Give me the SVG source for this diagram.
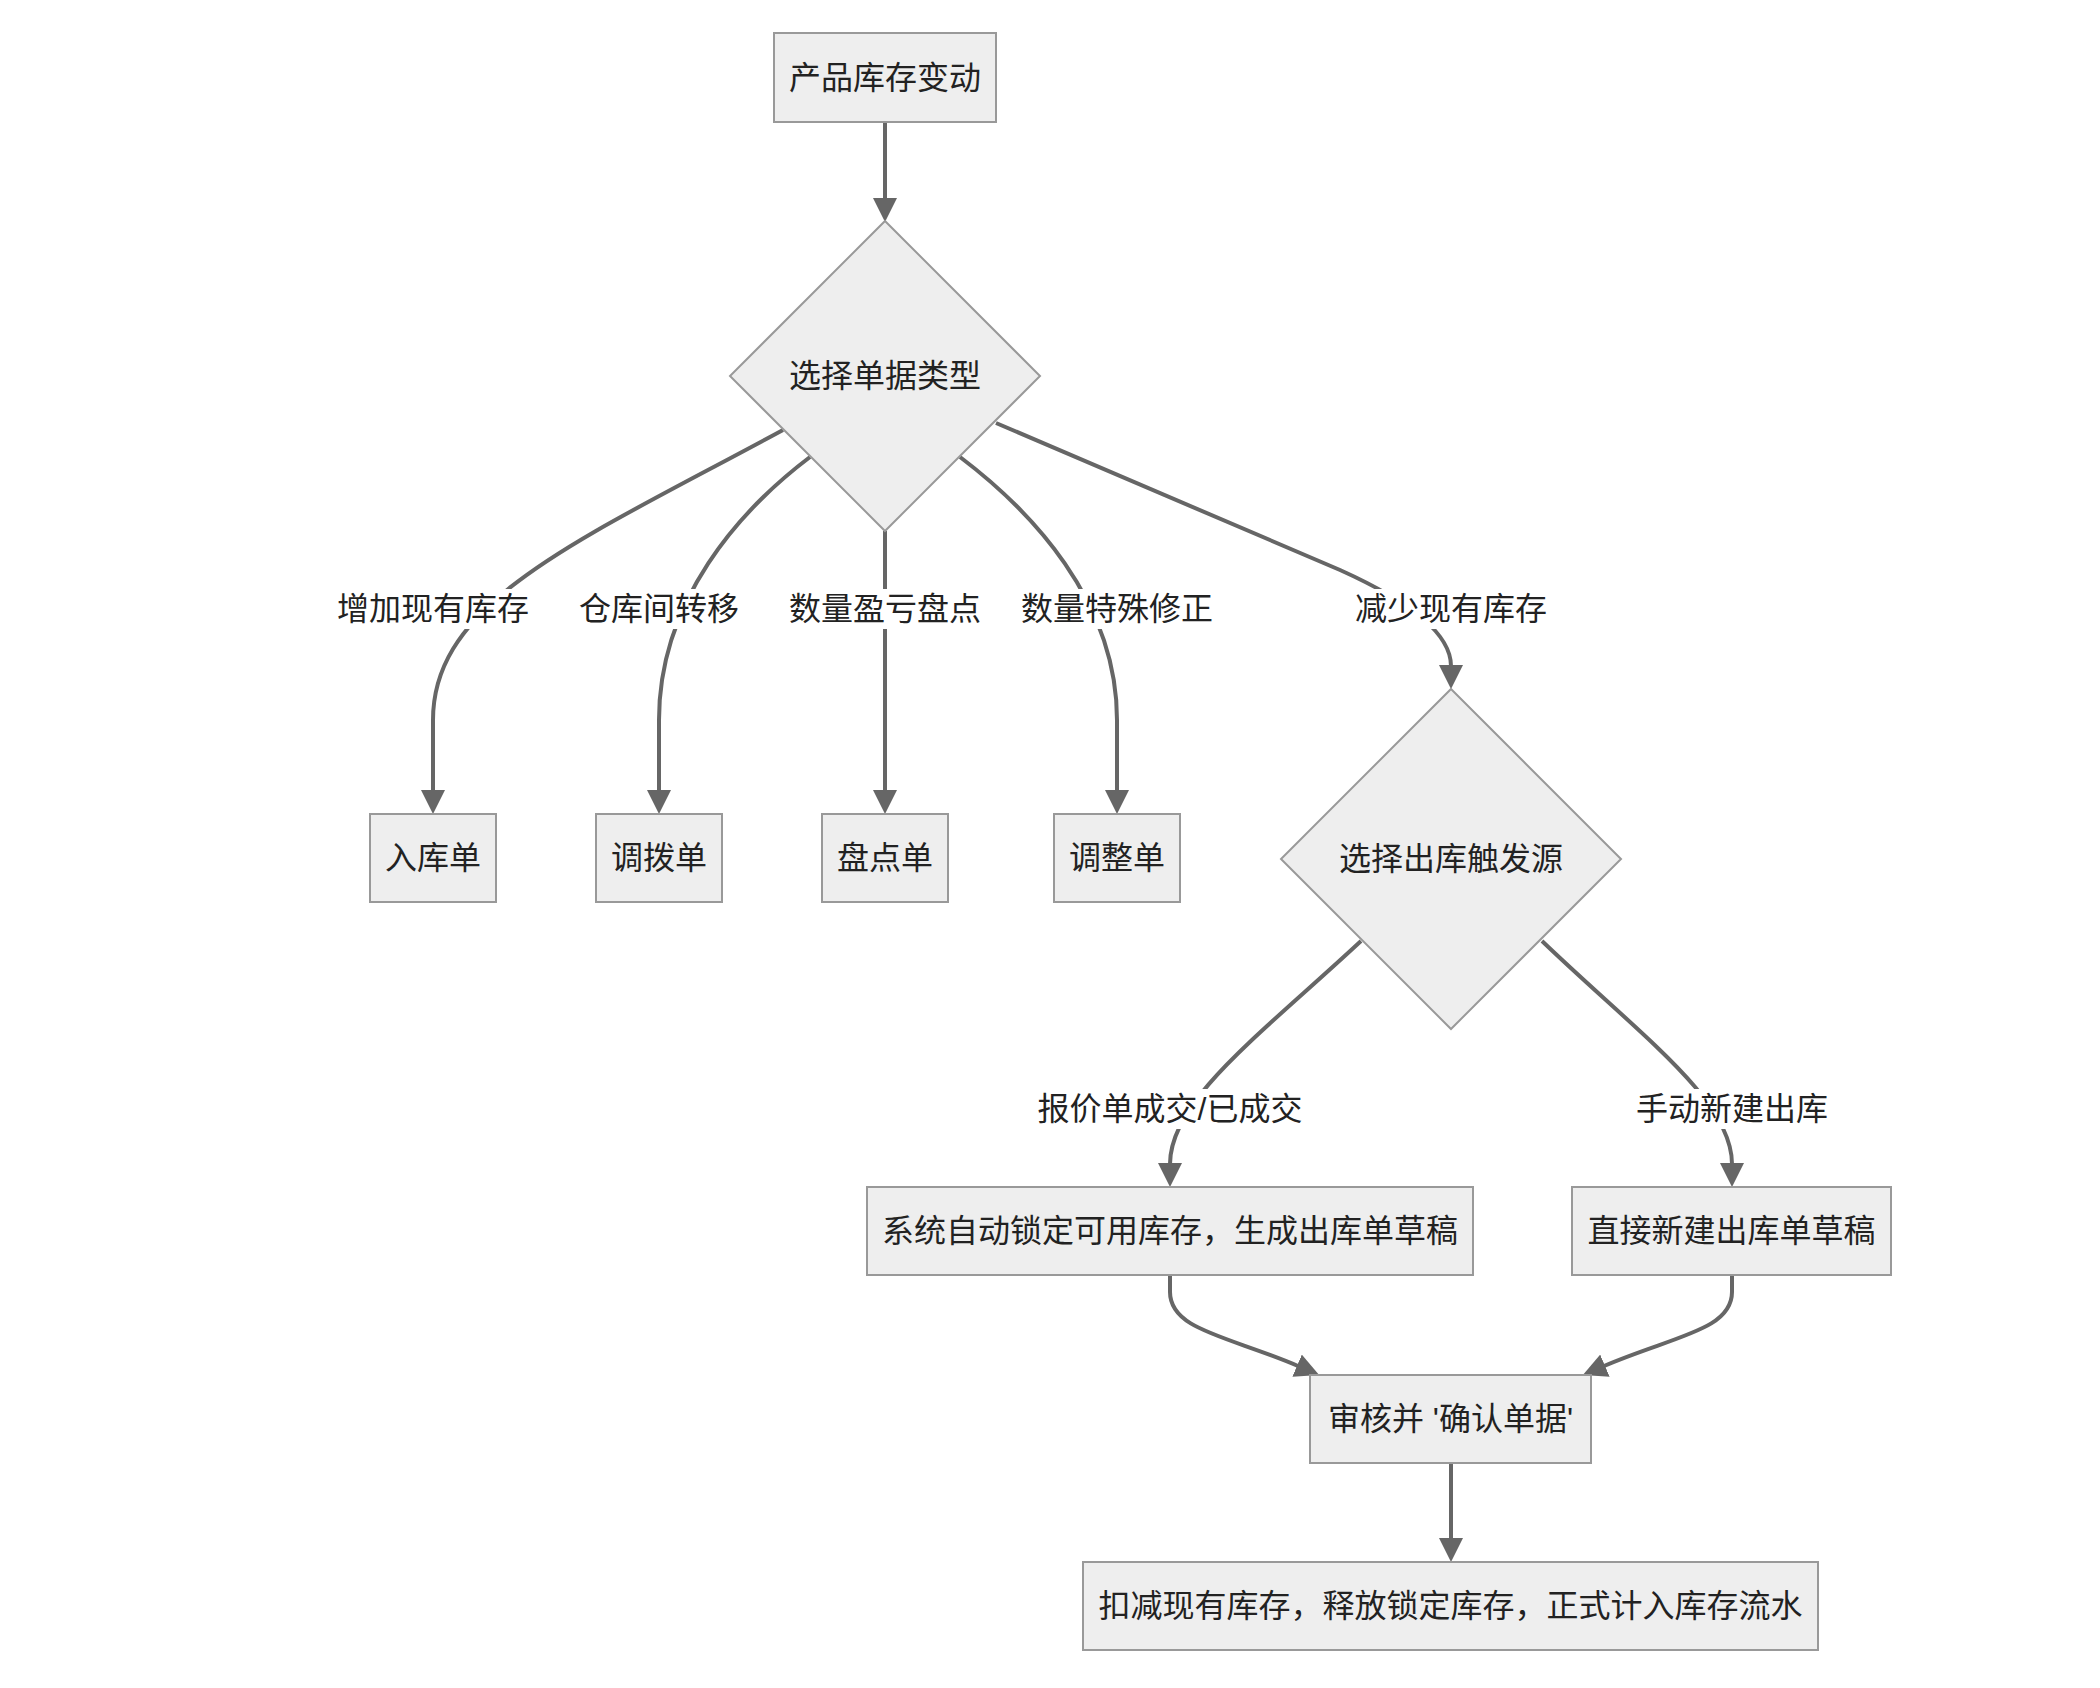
<svg xmlns="http://www.w3.org/2000/svg" width="2100" height="1688" viewBox="0 0 2100 1688">
<defs>
<style>
.node{fill:#eeeeee;stroke:#999999;stroke-width:2}
.t{font-family:"Liberation Sans","Noto Sans CJK SC",sans-serif;font-size:32px;fill:#222;text-anchor:middle;dominant-baseline:central}
.e{fill:none;stroke:#666666;stroke-width:4}
.lb{fill:#ffffff}
</style>
<marker id="arr" markerUnits="userSpaceOnUse" markerWidth="24" markerHeight="24" viewBox="0 0 24 24" refX="1" refY="12" orient="auto">
<path d="M0,0 L24,12 L0,24 z" fill="#666666"/>
</marker>
</defs>
<rect width="2100" height="1688" fill="#ffffff"/>
<g id="edges">
<path class="e" marker-end="url(#arr)" d="M885,122 V199"/>
<path class="e" marker-end="url(#arr)" d="M783,430 C580,540 433,600 433,720 L433,791"/>
<path class="e" marker-end="url(#arr)" d="M810,457 C740,510 659,600 659,720 L659,791"/>
<path class="e" marker-end="url(#arr)" d="M885,531 L885,791"/>
<path class="e" marker-end="url(#arr)" d="M960,457 C1030,510 1117,600 1117,720 L1117,791"/>
<path class="e" marker-end="url(#arr)" d="M996,423 L1340,570 Q1451,620 1451,666"/>
<path class="e" marker-end="url(#arr)" d="M1361,941 C1260,1035 1170,1100 1170,1164"/>
<path class="e" marker-end="url(#arr)" d="M1542,941 C1640,1035 1732,1100 1732,1164"/>
<path class="e" marker-end="url(#arr)" d="M1170,1275 V1292 C1170,1330 1228,1336 1298,1366"/>
<path class="e" marker-end="url(#arr)" d="M1732,1275 V1292 C1732,1330 1674,1336 1604,1366"/>
<path class="e" marker-end="url(#arr)" d="M1451,1463 V1539"/>
</g>
<g id="edge-labels">
<g id="l1"><rect class="lb" x="333" y="589" width="200" height="40"/><text class="t" x="433" y="609">增加现有库存</text></g>
<g id="l2"><rect class="lb" x="575" y="589" width="168" height="40"/><text class="t" x="659" y="609">仓库间转移</text></g>
<g id="l3"><rect class="lb" x="785" y="589" width="200" height="40"/><text class="t" x="885" y="609">数量盈亏盘点</text></g>
<g id="l4"><rect class="lb" x="1017" y="589" width="200" height="40"/><text class="t" x="1117" y="609">数量特殊修正</text></g>
<g id="l5"><rect class="lb" x="1351" y="589" width="200" height="40"/><text class="t" x="1451" y="609">减少现有库存</text></g>
<g id="l6"><rect class="lb" x="1032" y="1089" width="276" height="40"/><text class="t" x="1170" y="1109">报价单成交/已成交</text></g>
<g id="l7"><rect class="lb" x="1632" y="1089" width="200" height="40"/><text class="t" x="1732" y="1109">手动新建出库</text></g>
</g>
<g id="n-start"><rect class="node" x="774" y="33" width="222" height="89"/><text class="t" x="885" y="77.5">产品库存变动</text></g>
<g id="n-type"><polygon class="node" points="885,221 1040,376 885,531 730,376"/><text class="t" x="885" y="376">选择单据类型</text></g>
<g id="n-in"><rect class="node" x="370" y="814" width="126" height="88"/><text class="t" x="433" y="858">入库单</text></g>
<g id="n-transfer"><rect class="node" x="596" y="814" width="126" height="88"/><text class="t" x="659" y="858">调拨单</text></g>
<g id="n-count"><rect class="node" x="822" y="814" width="126" height="88"/><text class="t" x="885" y="858">盘点单</text></g>
<g id="n-adjust"><rect class="node" x="1054" y="814" width="126" height="88"/><text class="t" x="1117" y="858">调整单</text></g>
<g id="n-source"><polygon class="node" points="1451,689 1621,859 1451,1029 1281,859"/><text class="t" x="1451" y="859">选择出库触发源</text></g>
<g id="n-auto"><rect class="node" x="867" y="1187" width="606" height="88"/><text class="t" x="1170" y="1231">系统自动锁定可用库存，生成出库单草稿</text></g>
<g id="n-manual"><rect class="node" x="1572" y="1187" width="319" height="88"/><text class="t" x="1731.5" y="1231">直接新建出库单草稿</text></g>
<g id="n-confirm"><rect class="node" x="1310" y="1375" width="281" height="88"/><text class="t" x="1450.5" y="1419">审核并 '确认单据'</text></g>
<g id="n-final"><rect class="node" x="1083" y="1562" width="735" height="88"/><text class="t" x="1450.5" y="1606">扣减现有库存，释放锁定库存，正式计入库存流水</text></g>
</svg>
